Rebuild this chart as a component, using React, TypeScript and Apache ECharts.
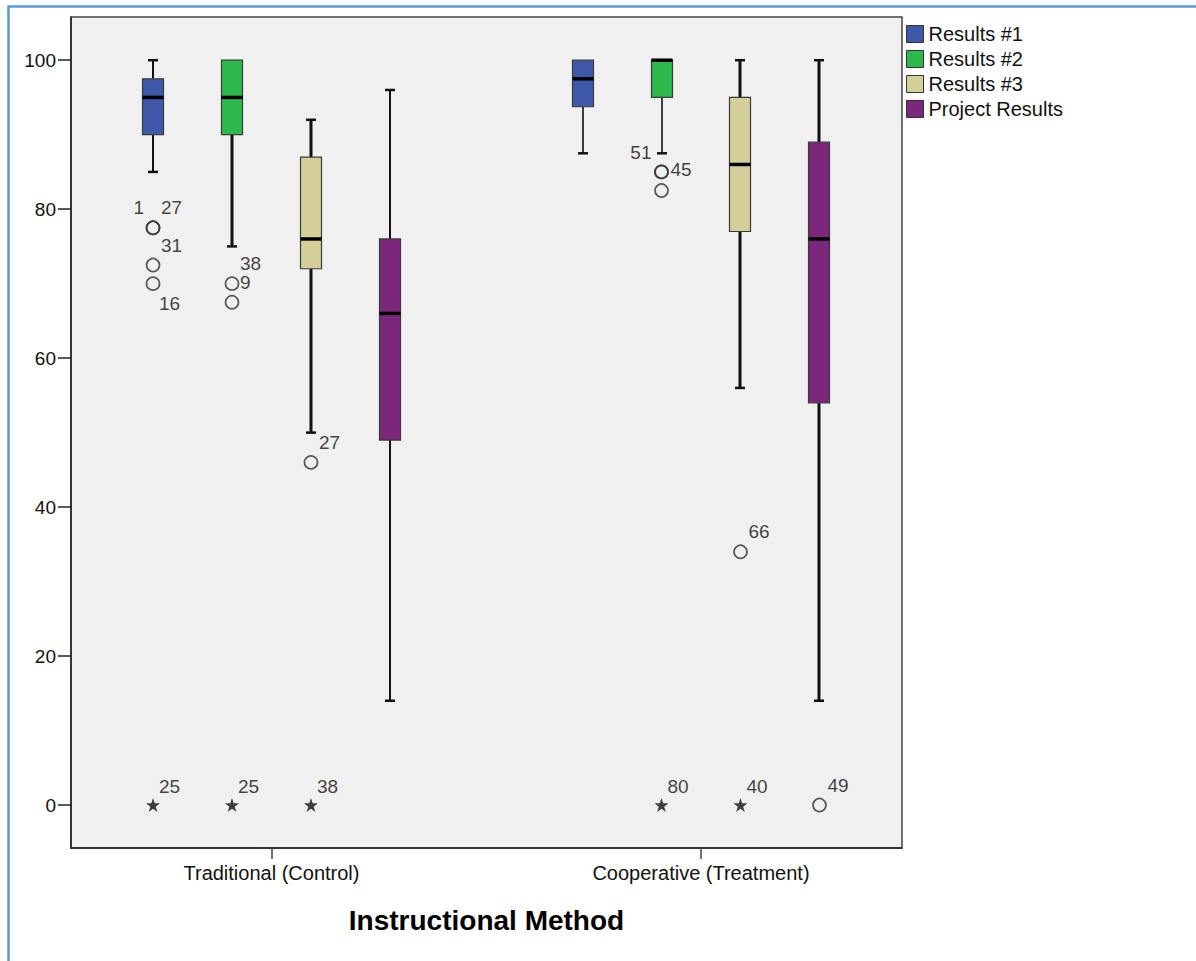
import React, { useEffect, useRef } from "react";
import * as echarts from "echarts";

// ---- data ----
const groups = ["Traditional (Control)", "Cooperative (Treatment)"];
const seriesNames = ["Results #1", "Results #2", "Results #3", "Project Results"];
// [min, q1, median, q3, max] per group
const results1 = [
  [85, 90, 95, 97.5, 100],
  [87.5, 93.75, 97.5, 100, 100],
];
const results2 = [
  [75, 90, 95, 100, 100],
  [87.5, 95, 100, 100, 100],
];
const results3 = [
  [50, 72, 76, 87, 92],
  [56, 77, 86, 95, 100],
];
const projectResults = [
  [14, 49, 66, 76, 96],
  [14, 54, 76, 89, 100],
];
const boxData = [results1, results2, results3, projectResults];

// outliers: [seriesIndex, groupIndex, value, caseLabel]
const mildOutliers: [number, number, number, string][] = [
  [0, 0, 77.5, "1"],
  [0, 0, 77.5, "27"],
  [0, 0, 72.5, "31"],
  [0, 0, 70, "16"],
  [1, 0, 70, "38"],
  [1, 0, 67.5, "9"],
  [2, 0, 46, "27"],
  [1, 1, 85, "51"],
  [1, 1, 85, "45"],
  [1, 1, 82.5, ""],
  [2, 1, 34, "66"],
  [3, 1, 0, "49"],
];
const extremeOutliers: [number, number, number, string][] = [
  [0, 0, 0, "25"],
  [1, 0, 0, "25"],
  [2, 0, 0, "38"],
  [1, 1, 0, "80"],
  [2, 1, 0, "40"],
];
const yTicks = [0, 20, 40, 60, 80, 100];

// ---- styles ----
const colors = ["#3F58AA", "#2DB84B", "#D4CF98", "#7B287C"];
const whiskerWidths = [
  [2, 1.6],
  [3, 1.6],
  [3, 3],
  [2, 3],
];
// label placement per mild outlier (same order)
const mildLabelPos = ["ul", "ur", "ur", "dr", "ur", "ur", "ur", "l", "r", "ur", "ur", "ur"];
const BOX_STEP = 0.1839;
const FONT = "'Liberation Sans', Arial, sans-serif";

const xOf = (s: number, g: number) => g + (s - 1.5) * BOX_STEP;

const labelCfg = (pos: string) => {
  switch (pos) {
    case "ul":
      return { align: "right", offset: [-9, -20] };
    case "l":
      return { align: "right", offset: [-10, -19] };
    case "dr":
      return { align: "left", offset: [6, 20] };
    case "r":
      return { align: "left", offset: [9, -2] };
    default:
      return { align: "left", offset: [8, -20] };
  }
};

const STAR =
  "path://M50,0 L61.8,35.1 L98.6,35.1 L68.8,56.8 L80.2,91.9 L50,70.2 L19.8,91.9 L31.2,56.8 L1.4,35.1 L38.2,35.1 Z";

export default function App() {
  const ref = useRef<HTMLDivElement>(null);
  useEffect(() => {
    if (!ref.current) return;
    const chart = echarts.init(ref.current, null, { renderer: "svg" });

    const boxSeries = seriesNames.map((name, s) => ({
      name,
      type: "custom",
      itemStyle: { color: colors[s], borderColor: "#333", borderWidth: 1 },
      encode: { x: 0, y: [1, 2, 3, 4, 5] },
      data: boxData[s].map((st, g) => [xOf(s, g), ...st, whiskerWidths[s][g]]),
      renderItem: (params: any, api: any) => {
        const x = api.value(0);
        const mn = api.coord([x, api.value(1)]);
        const q1 = api.coord([x, api.value(2)]);
        const md = api.coord([x, api.value(3)]);
        const q3 = api.coord([x, api.value(4)]);
        const mx = api.coord([x, api.value(5)]);
        const ww = api.value(6);
        const cx = Math.round(mn[0]);
        const hw = 10.5;
        const cw = 5;
        const children: any[] = [];
        const wStyle = { stroke: "#111", lineWidth: ww };
        if (api.value(5) > api.value(4)) {
          children.push({ type: "line", shape: { x1: cx, y1: mx[1], x2: cx, y2: q3[1] }, style: wStyle });
          children.push({ type: "line", shape: { x1: cx - cw, y1: mx[1], x2: cx + cw, y2: mx[1] }, style: { stroke: "#111", lineWidth: 2.5 } });
        }
        if (api.value(1) < api.value(2)) {
          children.push({ type: "line", shape: { x1: cx, y1: q1[1], x2: cx, y2: mn[1] }, style: wStyle });
          children.push({ type: "line", shape: { x1: cx - cw, y1: mn[1], x2: cx + cw, y2: mn[1] }, style: { stroke: "#111", lineWidth: 2.5 } });
        }
        children.push({
          type: "rect",
          shape: { x: cx - hw, y: q3[1], width: hw * 2, height: q1[1] - q3[1] },
          style: { fill: colors[params.seriesIndex], stroke: "#3a3a3a", lineWidth: 1.2 },
        });
        children.push({
          type: "line",
          shape: { x1: cx - hw, y1: md[1], x2: cx + hw, y2: md[1] },
          style: { stroke: "#000", lineWidth: 3.5 },
        });
        return { type: "group", children };
      },
      z: 2,
    }));

    const mildSeries = {
      type: "scatter",
      symbol: "circle",
      symbolSize: 13,
      itemStyle: { color: "rgba(0,0,0,0)", borderColor: "#333", borderWidth: 1.7 },
      z: 3,
      data: mildOutliers.map(([s, g, v, lab], i) => {
        const lc = labelCfg(mildLabelPos[i]);
        return {
          value: [xOf(s, g), v],
          label: {
            show: lab !== "",
            position: "inside",
            formatter: lab,
            align: lc.align,
            verticalAlign: "middle",
            offset: lc.offset,
          },
        };
      }),
      label: { color: "#111", fontSize: 19, fontFamily: FONT },
    };

    const extremeSeries = {
      type: "scatter",
      symbol: STAR,
      symbolSize: 14,
      itemStyle: { color: "#111" },
      z: 3,
      data: extremeOutliers.map(([s, g, v, lab]) => ({
        value: [xOf(s, g), v],
        label: {
          show: true,
          position: "inside",
          formatter: lab,
          align: "left",
          verticalAlign: "middle",
          offset: [6, -19],
        },
      })),
      label: { color: "#111", fontSize: 19, fontFamily: FONT },
    };

    chart.setOption({
      animation: false,
      color: colors,
      grid: {
        left: 71,
        top: 17,
        right: 294,
        bottom: 113,
        show: true,
        backgroundColor: "#F0F0F0",
        borderColor: "#444",
        borderWidth: 1.5,
      },
      legend: {
        data: seriesNames,
        orient: "vertical",
        left: 906,
        top: 24,
        padding: 0,
        itemWidth: 17,
        itemHeight: 17,
        itemGap: 5,
        itemTextGap: 6,
        icon: "rect",
        itemStyle: { borderColor: "#333", borderWidth: 1 },
        textStyle: { fontSize: 20, fontFamily: FONT, color: "#111", lineHeight: 17 },
        selectedMode: false,
      },
      xAxis: {
        type: "value",
        min: -0.4668,
        max: 1.468,
        splitLine: { show: false },
        axisLine: { show: true, onZero: false, lineStyle: { color: "#222", width: 1.5 } },
        axisTick: {
          show: true,
          customValues: [0, 1],
          length: 11,
          lineStyle: { color: "#444", width: 1.5 },
        },
        axisLabel: {
          customValues: [0, 1],
          formatter: (v: number) => groups[Math.round(v)] ?? "",
          fontSize: 20,
          fontFamily: FONT,
          color: "#111",
          margin: 15,
        },
        name: "Instructional Method",
        nameLocation: "middle",
        nameGap: 58,
        nameTextStyle: { fontSize: 28, fontWeight: "bold", fontFamily: FONT, color: "#000" },
      },
      yAxis: {
        type: "value",
        min: -5.77,
        max: 105.8,
        splitLine: { show: false },
        axisLine: { show: true, onZero: false, lineStyle: { color: "#222", width: 1.5 } },
        axisTick: {
          show: true,
          customValues: yTicks,
          length: 13,
          lineStyle: { color: "#222", width: 1.5 },
        },
        axisLabel: {
          customValues: yTicks,
          fontSize: 19,
          fontFamily: FONT,
          color: "#111",
          margin: 15,
        },
      },
      graphic: [
        {
          type: "rect",
          left: 6,
          top: 4,
          shape: { x: 0, y: 0, width: 1300, height: 1100 },
          style: { fill: "none", stroke: "#5B9BD5", lineWidth: 2.5 },
          silent: true,
          z: 100,
        },
      ],
      series: [...boxSeries, mildSeries, extremeSeries],
    });
    return () => chart.dispose();
  }, []);

  return (
    <div
      ref={ref}
      style={{ position: "fixed", left: 0, top: 0, width: 1196, height: 961, background: "#fff" }}
    />
  );
}
